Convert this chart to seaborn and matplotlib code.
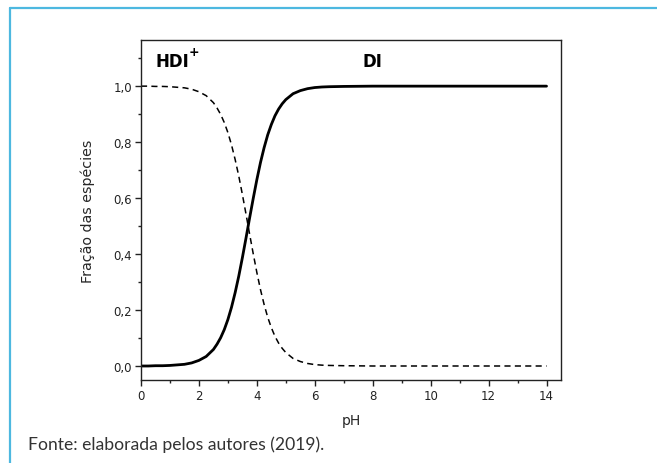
import matplotlib
matplotlib.use("Agg")
import matplotlib.pyplot as plt
from matplotlib.lines import Line2D
from matplotlib.ticker import MultipleLocator
import seaborn as sns
import pandas as pd

# Data
ph = [0, 0.25, 0.5, 0.75, 1, 1.25, 1.5, 1.75, 2, 2.25, 2.5, 2.625, 2.75,
      2.875, 3, 3.125, 3.25, 3.375, 3.5, 3.625, 3.75, 3.875, 4, 4.125, 4.25,
      4.375, 4.5, 4.625, 4.75, 4.875, 5, 5.25, 5.5, 5.75, 6, 6.25, 6.5, 7,
      8, 9, 10, 11, 12, 13, 14]
frac_di = [0.0, 0.0, 0.001, 0.001, 0.002, 0.004, 0.006, 0.011, 0.020, 0.034,
           0.059, 0.078, 0.101, 0.130, 0.166, 0.210, 0.262, 0.321, 0.387,
           0.457, 0.529, 0.599, 0.666, 0.727, 0.780, 0.826, 0.863, 0.894,
           0.918, 0.937, 0.952, 0.973, 0.984, 0.991, 0.995, 0.997, 0.998,
           0.999, 1.0, 1.0, 1.0, 1.0, 1.0, 1.0, 1.0]
frac_hdi = [1.0, 1.0, 0.999, 0.999, 0.998, 0.996, 0.994, 0.989, 0.980, 0.966,
            0.941, 0.922, 0.899, 0.870, 0.834, 0.790, 0.738, 0.679, 0.613,
            0.543, 0.471, 0.401, 0.334, 0.273, 0.220, 0.174, 0.137, 0.106,
            0.082, 0.063, 0.048, 0.027, 0.016, 0.009, 0.005, 0.003, 0.002,
            0.001, 0.0, 0.0, 0.0, 0.0, 0.0, 0.0, 0.0]
ytick_vals = [0.0, 0.2, 0.4, 0.6, 0.8, 1.0]
ytick_labels = ["0,0", "0,2", "0,4", "0,6", "0,8", "1,0"]
xtick_vals = [0, 2, 4, 6, 8, 10, 12, 14]

df = pd.DataFrame({"pH": ph, "DI": frac_di, "HDI": frac_hdi})

sns.set_style("ticks")
plt.rcParams['font.family'] = ['DejaVu Sans']

fig = plt.figure(figsize=(6.57, 4.64), dpi=100)
ax = fig.add_axes([0.2146, 0.1789, 0.6393, 0.7328])

sns.lineplot(data=df, x="pH", y="HDI", ax=ax, color="black", lw=1.1,
             linestyle=(0, (4, 2.8)))
sns.lineplot(data=df, x="pH", y="DI", ax=ax, color="black", lw=2.0)

ax.set_xlim(0, 14.5)
ax.set_ylim(-0.05, 1.165)
ax.set_xticks(xtick_vals)
ax.set_xticklabels([str(v) for v in xtick_vals])
ax.set_yticks(ytick_vals)
ax.set_yticklabels(ytick_labels)
ax.xaxis.set_minor_locator(MultipleLocator(1))
ax.yaxis.set_minor_locator(MultipleLocator(0.1))
ax.tick_params(which="major", direction="out", length=4.5, width=1.0,
               labelsize=8.5, colors="#222222", pad=2)
ax.tick_params(which="minor", direction="out", length=2.5, width=1.0,
               colors="#222222")
for s in ax.spines.values():
    s.set_linewidth(1.0)
    s.set_color("#222222")

ax.set_xlabel("pH", fontsize=10, labelpad=8)
ax.set_ylabel("Fração das espécies", fontsize=10.3, labelpad=13)

ax.text(0.5, 1.09, "HDI", fontsize=12, fontweight="heavy", va="center",
        ha="left", color="black")
ax.text(1.65, 1.125, "+", fontsize=9, fontweight="heavy", va="center",
        ha="left", color="black")
ax.text(7.65, 1.09, "DI", fontsize=12, fontweight="heavy", va="center",
        ha="left", color="black")

# Blue frame
blue = "#4DB8E0"
fig.add_artist(Line2D([10/657, 1.0], [1 - 9/464, 1 - 9/464], color=blue,
                      lw=1.6, transform=fig.transFigure))
fig.add_artist(Line2D([10/657, 10/657], [0.0, 1 - 9/464], color=blue,
                      lw=1.6, transform=fig.transFigure))

fig.text(28/657, 1 - 450/464, "Fonte: elaborada pelos autores (2019).",
         fontsize=12.6, family="Lato", fontweight="normal", color="#333333",
         va="baseline", ha="left")

fig.savefig("out.png", dpi=100)
